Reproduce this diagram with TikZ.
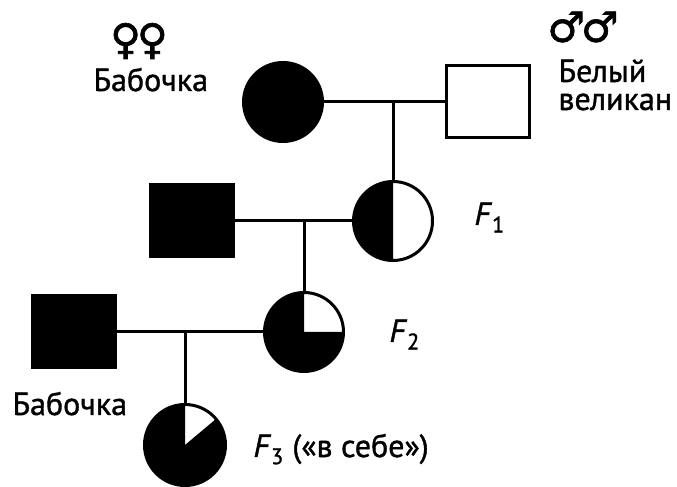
\documentclass[tikz,border=0pt]{standalone}
\usepackage{fontspec}
\setmainfont{PT Sans}
\newfontfamily\lblfont{PT Sans}[FakeBold=1.2]
\newfontfamily\symfont{DejaVu Sans}[FakeBold=1.5]
\begin{document}
\begin{tikzpicture}[x=1pt, y=1pt, line width=3pt,
  female/.style={circle, draw, fill=white, minimum size=79pt, inner sep=0pt},
  male/.style={rectangle, draw, fill=white, minimum width=83pt, minimum height=72pt, inner sep=0pt},
  affected/.style={fill=black},
  pie/.style 2 args={path picture={\fill[black] (path picture bounding box.center)
      -- ++(#1:60pt) arc[start angle=#1, end angle=#2, radius=60pt] -- cycle;}},
  lbl/.style={font=\lblfont\fontsize{32}{28}\selectfont, inner sep=0pt},
  sym/.style={font=\symfont\fontsize{42}{48}\selectfont, inner sep=0pt},
  gen/.style={font=\lblfont\fontsize{32}{38}\selectfont, inner sep=0pt, anchor=base west}
]
\useasboundingbox (0,0) rectangle (677,487);

% parents
\node[female, affected] (c0) at (283,385) {};
\node[male] (s0) at (487.5,385) {};
\coordinate (m0) at (393,385);

% F1 and her partner
\node[female, pie={90}{270}] (f1) at (393,266) {};
\node[male, affected] (s1) at (192,266) {};
\coordinate (m1) at (304,266);

% F2 and her partner
\node[female, pie={90}{360}] (f2) at (304,155) {};
\node[male, affected] (s2) at (73.5,155) {};
\coordinate (m2) at (185,155);

% F3
\node[female, minimum size=81pt, pie={90}{400}] (f3) at (185,42) {};

% mating and descent lines
\draw (c0) -- (s0);
\draw (m0) -- (f1);
\draw (s1) -- (f1);
\draw (m1) -- (f2);
\draw (s2) -- (f2);
\draw (m2) -- (f3);

% labels
\node[sym] (fsym) at (139,446) {♀\kern-4pt♀};
\node[lbl, anchor=base west] (bab1) at (92,396) {Бабочка};
\node[sym] (msym) at (583,460) {♂\kern-4pt♂};
\node[lbl, anchor=base west, align=left] (bel) at (557,377) {Белый\\великан};
\node[lbl, anchor=base west] (bab2) at (11,72) {Бабочка};
\node[gen] (g1) at (473,262) {\textit{F}\textsubscript{1}};
\node[gen] (g2) at (388,145) {\textit{F}\textsubscript{2}};
\node[gen] (g3) at (252,30) {\textit{F}\textsubscript{3} («в себе»)};
\end{tikzpicture}
\end{document}
